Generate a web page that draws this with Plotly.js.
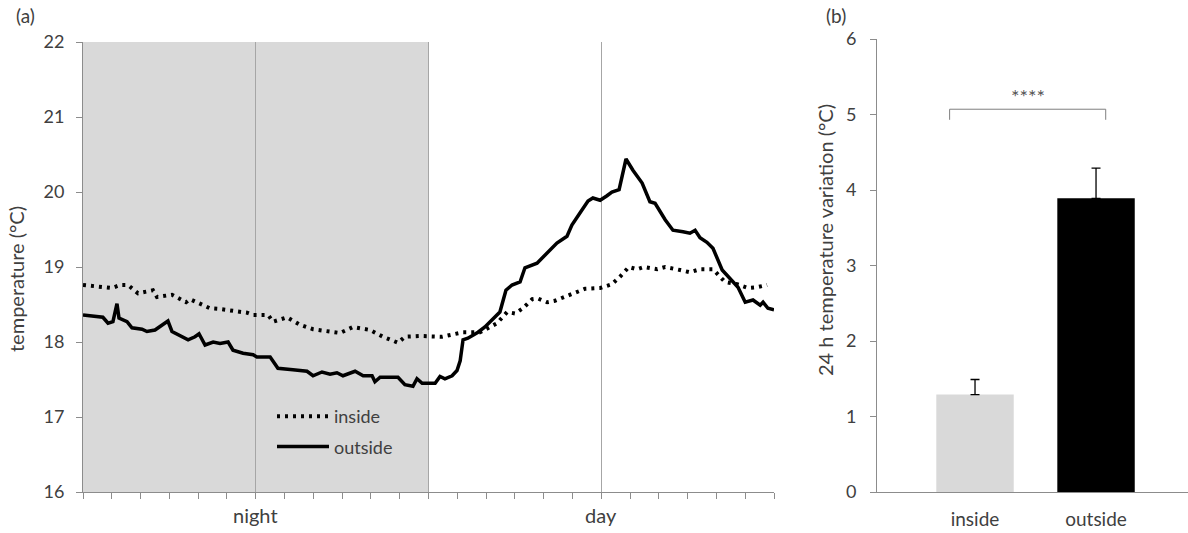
<!DOCTYPE html>
<html>
<head>
<meta charset="utf-8">
<script src="https://cdn.plot.ly/plotly-3.0.1.min.js"></script>
<style>
  html, body { margin: 0; padding: 0; background: #fff; }
  #chart { width: 1188px; height: 533px; }
</style>
</head>
<body>
<div id="chart"></div>
<script>
// (a) temperature over 24 h, hours from start of the night period
const outsideHours = [0, 0.69, 0.87, 1.04, 1.18, 1.25, 1.53, 1.70, 2.05, 2.22, 2.50, 2.67, 2.95, 3.09, 3.37, 3.65, 3.89, 4.03, 4.24, 4.52, 4.76, 5.04, 5.21, 5.56, 5.91, 6.04, 6.50, 6.77, 7.29, 7.78, 7.99, 8.30, 8.58, 8.82, 9.03, 9.45, 9.73, 10.04, 10.14, 10.32, 10.94, 11.18, 11.46, 11.60, 11.78, 12.23, 12.40, 12.57, 12.82, 12.99, 13.10, 13.20, 13.37, 13.72, 13.96, 14.48, 14.69, 14.90, 15.18, 15.35, 15.77, 16.15, 16.46, 16.81, 16.98, 17.26, 17.54, 17.71, 17.96, 18.20, 18.37, 18.62, 18.86, 19.10, 19.42, 19.69, 19.87, 20.22, 20.49, 20.84, 21.08, 21.26, 21.43, 21.67, 21.88, 22.20, 22.47, 22.75, 23.00, 23.27, 23.52, 23.62, 23.79, 24];
const outsideTemp = [18.36, 18.33, 18.25, 18.27, 18.51, 18.32, 18.27, 18.19, 18.17, 18.14, 18.16, 18.21, 18.28, 18.14, 18.09, 18.03, 18.07, 18.11, 17.96, 18.00, 17.98, 18.00, 17.89, 17.85, 17.83, 17.80, 17.80, 17.65, 17.63, 17.61, 17.55, 17.60, 17.57, 17.59, 17.55, 17.61, 17.55, 17.55, 17.47, 17.53, 17.53, 17.43, 17.41, 17.51, 17.45, 17.45, 17.54, 17.51, 17.55, 17.62, 17.75, 18.03, 18.05, 18.13, 18.20, 18.40, 18.69, 18.76, 18.80, 18.99, 19.05, 19.19, 19.32, 19.41, 19.56, 19.72, 19.88, 19.92, 19.89, 19.95, 20.00, 20.03, 20.44, 20.29, 20.12, 19.87, 19.85, 19.63, 19.49, 19.47, 19.45, 19.49, 19.39, 19.33, 19.25, 18.96, 18.85, 18.73, 18.53, 18.56, 18.49, 18.53, 18.45, 18.43];

const insideHours = [0, 1.01, 1.29, 1.56, 1.91, 2.43, 2.57, 3.09, 3.58, 3.72, 4.41, 4.76, 5.70, 5.91, 6.43, 6.60, 7.09, 7.54, 7.99, 8.68, 8.93, 9.38, 9.97, 10.42, 10.94, 11.18, 11.71, 12.47, 13.20, 13.79, 14.38, 14.73, 15.01, 15.28, 15.60, 15.80, 16.12, 16.39, 16.92, 17.44, 17.96, 18.37, 18.65, 18.96, 19.24, 19.49, 19.94, 20.22, 20.74, 21.08, 21.43, 21.88, 22.30, 22.72, 23.10, 23.41, 23.76];
const insideTemp = [18.76, 18.72, 18.76, 18.76, 18.65, 18.69, 18.60, 18.63, 18.53, 18.57, 18.45, 18.44, 18.39, 18.36, 18.36, 18.27, 18.33, 18.23, 18.17, 18.14, 18.12, 18.20, 18.16, 18.07, 17.99, 18.07, 18.08, 18.07, 18.13, 18.13, 18.25, 18.40, 18.38, 18.45, 18.57, 18.58, 18.53, 18.55, 18.63, 18.71, 18.72, 18.77, 18.87, 19.00, 18.97, 19.00, 18.97, 19.00, 18.96, 18.93, 18.97, 18.97, 18.80, 18.77, 18.72, 18.73, 18.76];

const periodLabels = ['night', 'day'];
const periodCentres = [6, 18];

// (b) 24 h temperature variation
const sites = ['inside', 'outside'];
const variation = [1.29, 3.89];
const variationErr = [0.2, 0.4];
const signif = '****';

const W = 1188, H = 533;
const px = v => v / W;
const py = v => 1 - v / H;

const FONT = 'Lato, "Liberation Sans", sans-serif';
const TXT = '#404040';
const AX = '#8c8c8c';

const traces = [
  {
    x: insideHours, y: insideTemp, name: 'inside', type: 'scatter', mode: 'lines',
    xaxis: 'x', yaxis: 'y', legendgroup: 'a',
    line: { color: '#000', width: 4, dash: '3px,5px' }
  },
  {
    x: outsideHours, y: outsideTemp, name: 'outside', type: 'scatter', mode: 'lines',
    xaxis: 'x', yaxis: 'y', legendgroup: 'b',
    line: { color: '#000', width: 3.5 }
  },
  {
    x: sites, y: variation, type: 'bar', xaxis: 'x2', yaxis: 'y2', showlegend: false,
    width: 0.64,
    marker: { color: ['#d9d9d9', '#000000'], line: { width: 0 } },
    error_y: { type: 'data', array: variationErr, arrayminus: [0, 0], symmetric: false,
               color: '#000', thickness: 1.3, width: 4.5 }
  }
];

const ann = (text, x, y, size, extra) => Object.assign({
  text: text, xref: 'paper', yref: 'paper', x: x, y: y, showarrow: false,
  xanchor: 'center', yanchor: 'middle', font: { size: size, color: TXT }
}, extra || {});

const layout = {
  width: W, height: H,
  margin: { l: 0, r: 0, t: 0, b: 0 },
  paper_bgcolor: '#fff', plot_bgcolor: 'rgba(0,0,0,0)',
  font: { family: FONT, size: 17, color: TXT },
  showlegend: true,
  legend: {
    x: px(272), y: py(398), xanchor: 'left', yanchor: 'top',
    bgcolor: 'rgba(0,0,0,0)', borderwidth: 0, tracegroupgap: 4, itemwidth: 52,
    font: { family: FONT, size: 18, color: TXT }
  },
  xaxis: {
    domain: [px(83), px(774)], range: [0, 24], anchor: 'y',
    tickmode: 'linear', tick0: 0, dtick: 6,
    showticklabels: false, ticks: 'outside', ticklen: 6, tickcolor: AX,
    minor: { dtick: 1, ticks: 'outside', ticklen: 6, tickcolor: AX, showgrid: false },
    showgrid: true, gridcolor: '#a6a6a6', gridwidth: 1,
    showline: true, linecolor: AX, linewidth: 1, zeroline: false
  },
  yaxis: {
    domain: [py(492), py(42)], range: [16, 22], anchor: 'x',
    tickmode: 'linear', tick0: 16, dtick: 1,
    ticks: 'outside', ticklen: 6, tickcolor: AX, ticklabelstandoff: 8,
    tickfont: { size: 18, color: TXT },
    showgrid: false, showline: true, linecolor: AX, linewidth: 1, zeroline: false
  },
  xaxis2: {
    domain: [px(877), 1], range: [-0.81, 1.76], anchor: 'y2', type: 'category',
    ticks: '', showgrid: false, showline: true, linecolor: AX, linewidth: 1,
    tickfont: { size: 19, color: TXT }, ticklabelstandoff: 10, zeroline: false
  },
  yaxis2: {
    domain: [py(492), py(39)], range: [0, 6], anchor: 'x2',
    tickmode: 'linear', tick0: 0, dtick: 1,
    ticks: 'outside', ticklen: 6, tickcolor: AX, ticklabelstandoff: 10,
    tickfont: { size: 18, color: TXT },
    showgrid: false, showline: true, linecolor: AX, linewidth: 1, zeroline: false
  },
  shapes: [
    // night shading
    { type: 'rect', xref: 'x', yref: 'y domain', x0: 0, x1: 12, y0: 0, y1: 1,
      fillcolor: '#d9d9d9', line: { width: 0 }, layer: 'below' },
    // significance bracket
    { type: 'line', xref: 'x2', yref: 'y2', x0: -0.21, x1: 1.08, y0: 5.07, y1: 5.07,
      line: { color: '#7f7f7f', width: 1 } },
    { type: 'line', xref: 'x2', yref: 'y2', x0: -0.21, x1: -0.21, y0: 4.93, y1: 5.07,
      line: { color: '#7f7f7f', width: 1 } },
    { type: 'line', xref: 'x2', yref: 'y2', x0: 1.08, x1: 1.08, y0: 4.93, y1: 5.07,
      line: { color: '#7f7f7f', width: 1 } }
  ],
  annotations: [
    ann('(a)', px(25), py(16), 19),
    ann('(b)', px(836), py(16), 19),
    ann('temperature (°C)', px(16), py(279), 20, { textangle: -90 }),
    ann('24 h temperature variation (°C)', px(825), py(240), 20, { textangle: -90 }),
    ann(signif, 0.435, 5.24, 20, { xref: 'x2', yref: 'y2', font: { size: 20, color: '#555' } })
  ].concat(periodLabels.map((t, i) =>
    ann(t, periodCentres[i], py(515), 20, { xref: 'x' })
  ))
};

Plotly.newPlot('chart', traces, layout, { displayModeBar: false, staticPlot: true });
</script>
</body>
</html>
